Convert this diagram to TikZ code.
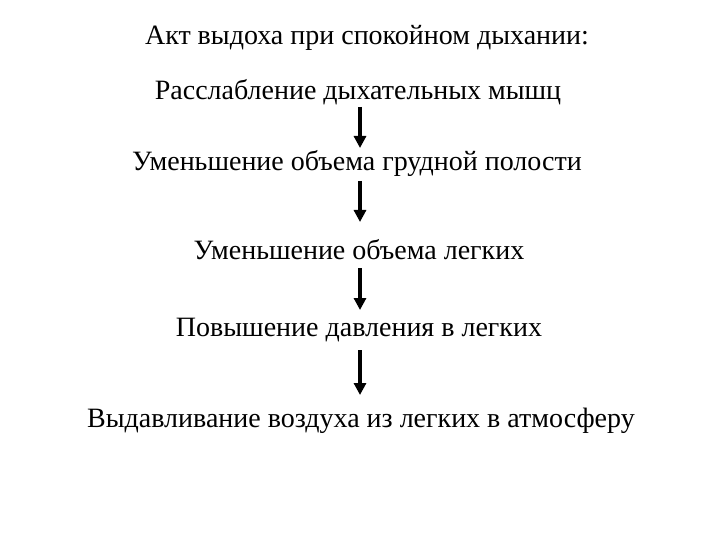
\documentclass[tikz,border=0pt]{standalone}
\usepackage{fontspec}
\setmainfont{Liberation Serif}
\usetikzlibrary{arrows.meta}
\begin{document}
\begin{tikzpicture}[x=1pt,y=-1pt,
  lbl/.style={inner sep=0pt,anchor=center,font=\fontsize{28}{32}\selectfont},
  arr/.style={line width=3.5pt,-{Triangle[length=12pt,width=12pt]}}]
\useasboundingbox (0,0) rectangle (720,540);
\node[lbl] (t) at (367,38) {Акт выдоха при спокойном дыхании:};
\node[lbl] (a) at (358,92) {Расслабление дыхательных мышц};
\node[lbl] (b) at (357,164) {Уменьшение объема грудной полости};
\node[lbl] (c) at (359,250) {Уменьшение объема легких};
\node[lbl] (d) at (359,330) {Повышение давления в легких};
\node[lbl] (e) at (361,421) {Выдавливание воздуха из легких в атмосферу};
\coordinate (a1) at (360,107); \coordinate (a2) at (360,148);
\coordinate (b1) at (360,181); \coordinate (b2) at (360,222);
\coordinate (c1) at (360,268); \coordinate (c2) at (360,310);
\coordinate (d1) at (360,350); \coordinate (d2) at (360,395);
\draw[arr] (a1) -- (a2);
\draw[arr] (b1) -- (b2);
\draw[arr] (c1) -- (c2);
\draw[arr] (d1) -- (d2);
\end{tikzpicture}
\end{document}
